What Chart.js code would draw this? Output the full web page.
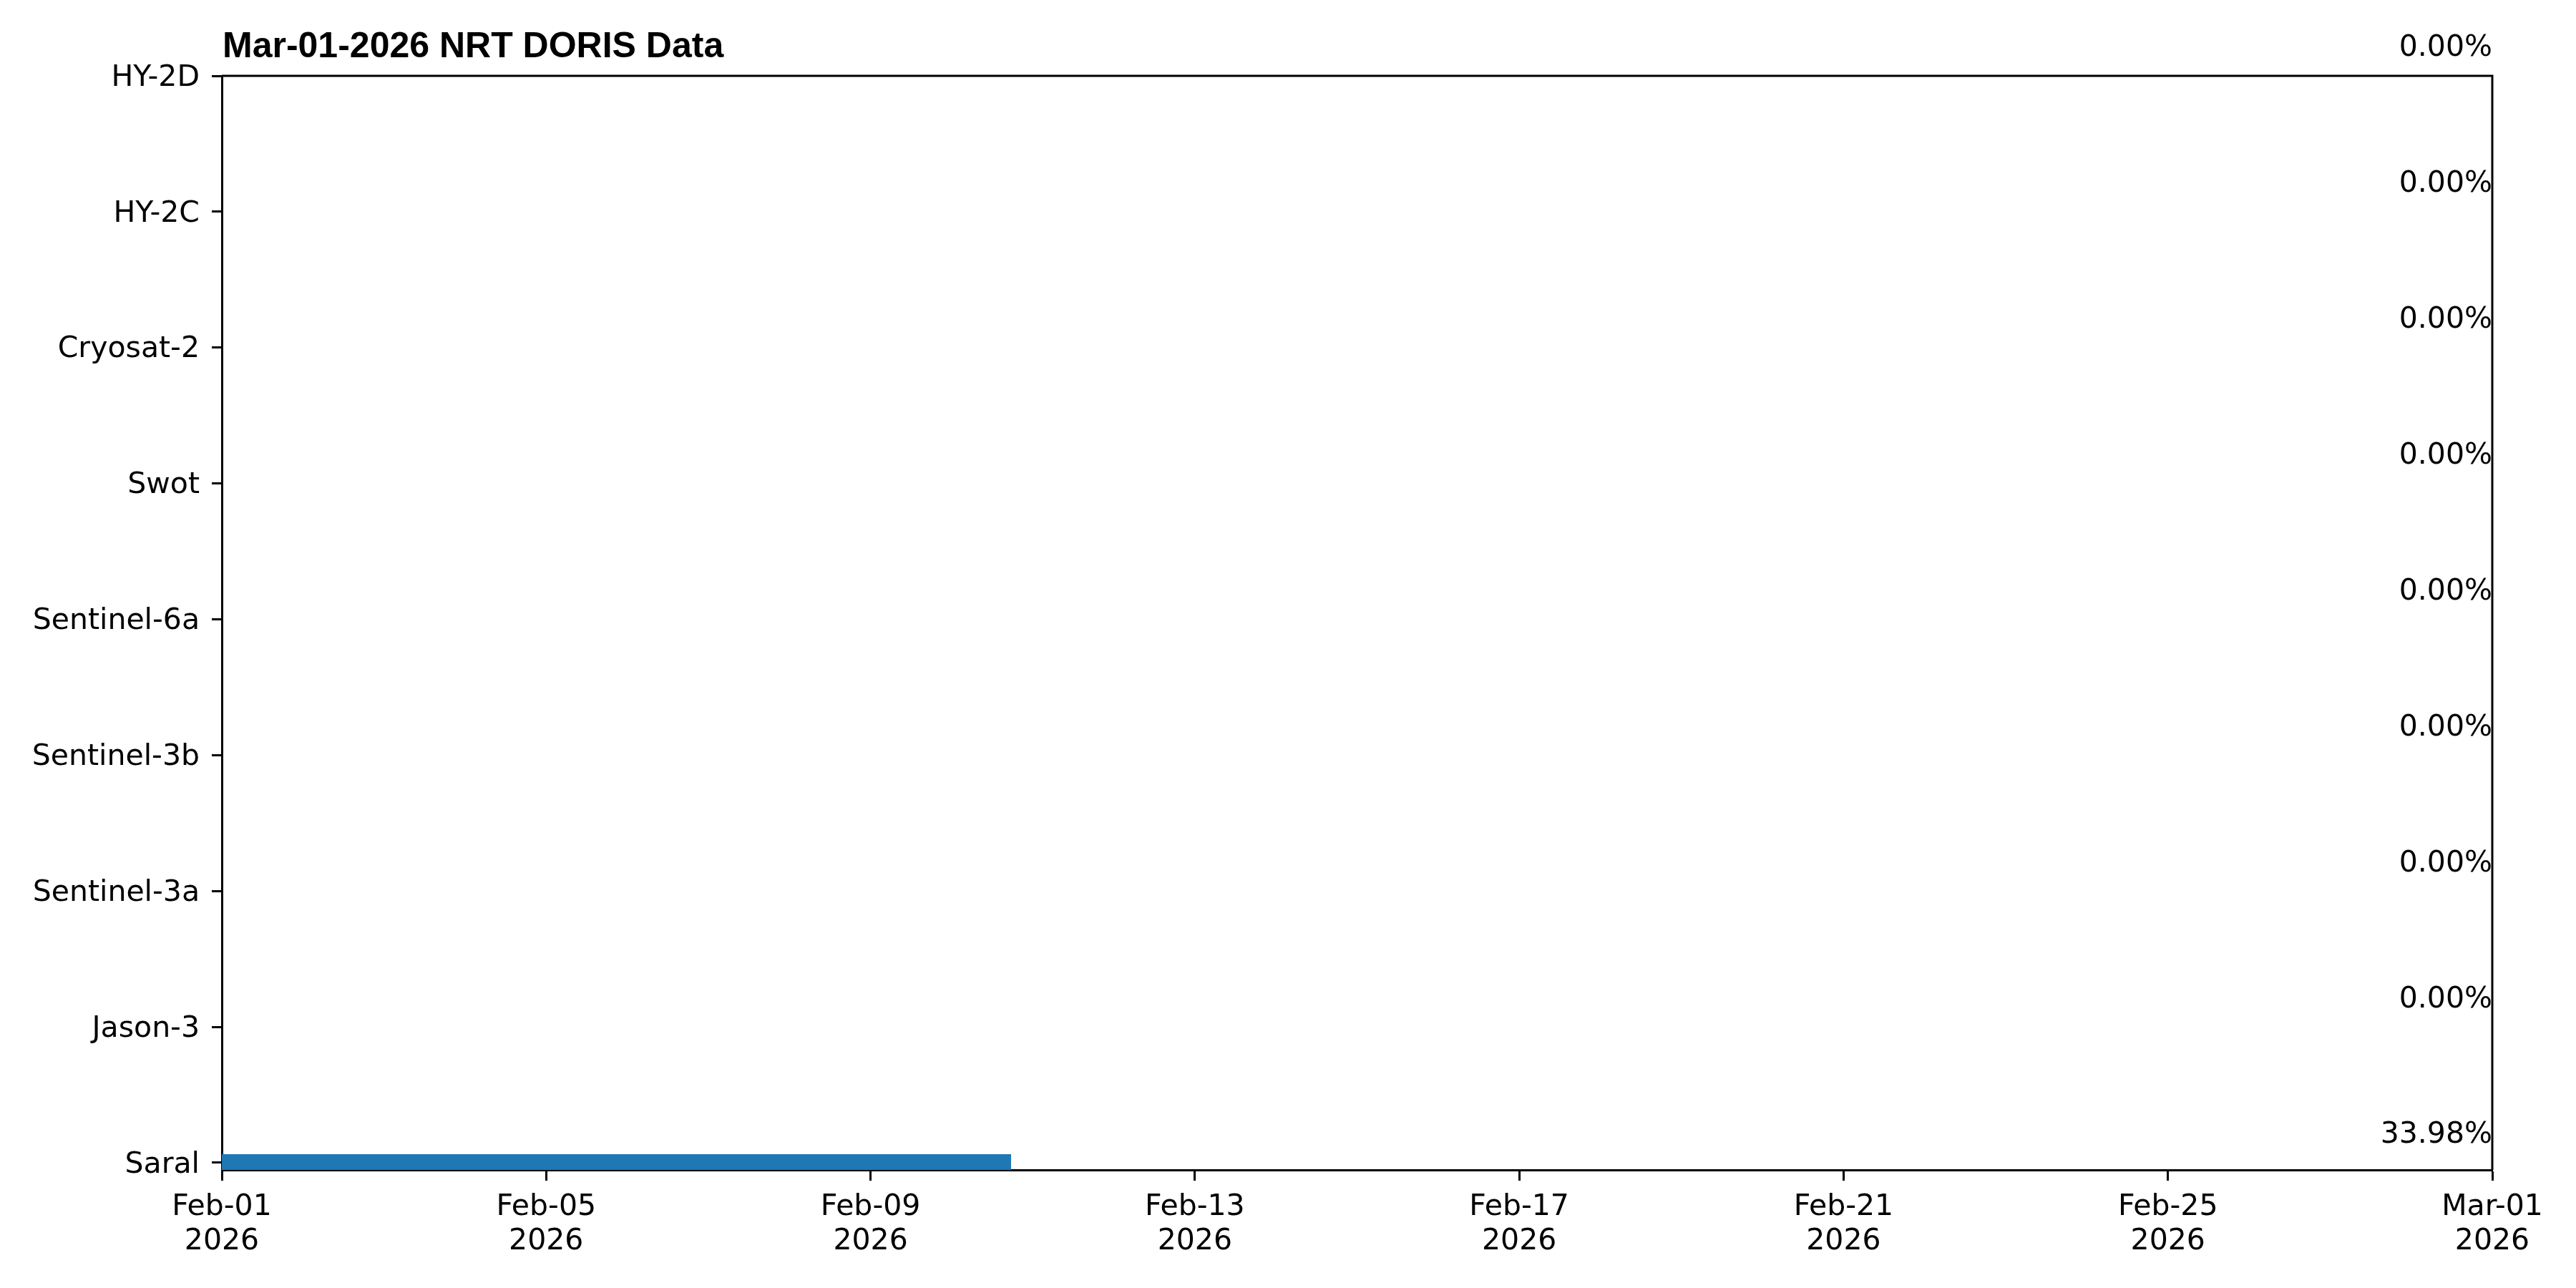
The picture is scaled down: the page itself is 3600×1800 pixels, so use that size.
<!DOCTYPE html>
<html>
<head>
<meta charset="utf-8">
<script src="https://cdn.jsdelivr.net/npm/chart.js@4.4.1/dist/chart.umd.min.js"></script>
<style>
  html, body { margin: 0; padding: 0; background: #ffffff; }
  #wrap { width: 3600px; height: 1800px; position: relative; }
</style>
</head>
<body>
<div id="wrap"><canvas id="c"></canvas></div>
<script>
// ---- Data ----
const chartTitle = 'Mar-01-2026 NRT DORIS Data';
const satellites = ['Saral', 'Jason-3', 'Sentinel-3a', 'Sentinel-3b', 'Sentinel-6a', 'Swot', 'Cryosat-2', 'HY-2C', 'HY-2D'];
const coverageStart = ['2026-02-01T00:00:00Z', null, null, null, null, null, null, null, null];
const coverageEnd   = ['2026-02-10T17:36:00Z', null, null, null, null, null, null, null, null];
const percentages   = [33.98, 0.00, 0.00, 0.00, 0.00, 0.00, 0.00, 0.00, 0.00];
const xTickDates = ['2026-02-01', '2026-02-05', '2026-02-09', '2026-02-13', '2026-02-17', '2026-02-21', '2026-02-25', '2026-03-01'];
const xRange = ['2026-02-01', '2026-03-01'];
const monthNames = ['Jan', 'Feb', 'Mar', 'Apr', 'May', 'Jun', 'Jul', 'Aug', 'Sep', 'Oct', 'Nov', 'Dec'];

const toMs = s => Date.parse(s.length === 10 ? s + 'T00:00:00Z' : s);
const barData = satellites.map((s, i) => ({
  y: i,
  x: coverageStart[i] && coverageEnd[i] ? [toMs(coverageStart[i]), toMs(coverageEnd[i])] : null
}));

function fmtDate(ms) {
  const d = new Date(ms);
  const dd = String(d.getUTCDate()).padStart(2, '0');
  return [monthNames[d.getUTCMonth()] + '-' + dd, String(d.getUTCFullYear())];
}

Chart.defaults.font.family = "'DejaVu Sans', sans-serif";
Chart.defaults.color = '#000000';

const TICK_FONT = { family: "'DejaVu Sans', sans-serif", size: 41, lineHeight: 1.17 };

const framePlugin = {
  id: 'frameAndLabels',
  afterDraw(chart) {
    const ctx = chart.ctx;
    const a = chart.chartArea;
    const ys = chart.scales.y;
    ctx.save();
    // top and right spines
    ctx.strokeStyle = '#000000';
    ctx.lineWidth = 3;
    ctx.beginPath();
    ctx.moveTo(a.left, a.top);
    ctx.lineTo(a.right, a.top);
    ctx.lineTo(a.right, a.bottom);
    ctx.stroke();
    // percentage labels
    ctx.fillStyle = '#000000';
    ctx.font = "41px 'DejaVu Sans', sans-serif";
    ctx.textAlign = 'right';
    ctx.textBaseline = 'alphabetic';
    percentages.forEach((p, i) => {
      const y = ys.getPixelForValue(i + 0.145);
      ctx.fillText(p.toFixed(2) + '%', a.right, y);
    });
    // title
    ctx.font = "bold 50px 'Liberation Sans', Arial, sans-serif";
    ctx.textAlign = 'left';
    ctx.fillText(chartTitle, a.left + 1, a.top - 26);
    ctx.restore();
  }
};

new Chart(document.getElementById('c'), {
  type: 'bar',
  data: {
    datasets: [{
      label: 'Coverage',
      data: barData,
      backgroundColor: '#1f77b4',
      borderWidth: 0,
      categoryPercentage: 1.0,
      barPercentage: 0.126
    }]
  },
  options: {
    indexAxis: 'y',
    responsive: true,
    maintainAspectRatio: false,
    devicePixelRatio: 1,
    animation: false,
    layout: { padding: { top: 106, right: 117, left: 0, bottom: 0 } },
    plugins: {
      legend: { display: false },
      title: { display: false },
      tooltip: { enabled: false }
    },
    scales: {
      x: {
        type: 'linear',
        position: 'bottom',
        min: toMs(xRange[0]),
        max: toMs(xRange[1]),
        afterBuildTicks(scale) {
          scale.ticks = xTickDates.map(d => ({ value: toMs(d) }));
        },
        afterFit(scale) { scale.height = 165; },
        ticks: {
          autoSkip: false,
          maxRotation: 0,
          minRotation: 0,
          padding: 13,
          color: '#000000',
          font: TICK_FONT,
          callback: v => fmtDate(v)
        },
        grid: {
          drawOnChartArea: false,
          drawTicks: true,
          tickLength: 15,
          tickWidth: 3,
          tickColor: '#000000'
        },
        border: { display: true, color: '#000000', width: 3 }
      },
      y: {
        type: 'linear',
        position: 'left',
        offset: false,
        min: -0.053,
        max: satellites.length - 1,
        afterBuildTicks(scale) {
          scale.ticks = satellites.map((s, i) => ({ value: i }));
        },
        afterFit(scale) { scale.width = 310; },
        ticks: {
          autoSkip: false,
          padding: 17,
          labelOffset: 3,
          color: '#000000',
          font: TICK_FONT,
          callback: v => satellites[v]
        },
        grid: {
          offset: false,
          drawOnChartArea: false,
          drawTicks: true,
          tickLength: 14,
          tickWidth: 3,
          tickColor: '#000000'
        },
        border: { display: true, color: '#000000', width: 3 }
      }
    }
  },
  plugins: [framePlugin]
});
</script>
</body>
</html>
